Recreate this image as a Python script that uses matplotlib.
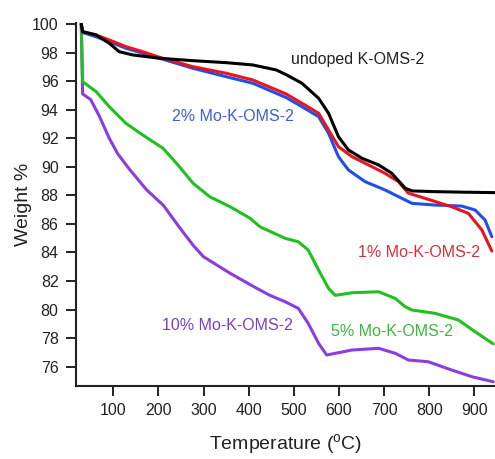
import matplotlib
matplotlib.use("Agg")
import matplotlib.pyplot as plt

plt.rcParams['font.family'] = ['Liberation Sans', 'DejaVu Sans']
plt.rcParams['mathtext.fontset'] = 'custom'
plt.rcParams['mathtext.rm'] = 'Liberation Sans'

# Undoped K-OMS-2
undoped_x = [29, 32, 62, 91, 113, 143, 202, 276, 350, 409, 461, 483, 518, 555, 577, 599, 621, 651, 688, 717, 747, 762, 810, 880, 946]
undoped_y = [100.0, 99.46, 99.23, 98.65, 98.06, 97.83, 97.6, 97.43, 97.29, 97.13, 96.78, 96.45, 95.85, 94.8, 93.75, 92.11, 91.18, 90.6, 90.13, 89.55, 88.5, 88.31, 88.26, 88.22, 88.19]

# 1% Mo-K-OMS-2
mo1_x = [29, 32, 62, 91, 128, 165, 202, 276, 350, 409, 483, 518, 555, 577, 599, 629, 673, 702, 732, 754, 791, 850, 887, 917, 939]
mo1_y = [100.0, 99.46, 99.23, 98.88, 98.41, 98.06, 97.67, 97.01, 96.55, 96.08, 95.1, 94.45, 93.75, 92.58, 91.41, 90.71, 90.01, 89.55, 88.96, 88.15, 87.79, 87.2, 86.74, 85.57, 84.1]

# 2% Mo-K-OMS-2
mo2_x = [29, 32, 62, 91, 128, 165, 202, 276, 350, 409, 483, 518, 555, 577, 599, 621, 658, 702, 732, 762, 813, 872, 902, 924, 939]
mo2_y = [100.0, 99.4, 99.1, 98.76, 98.3, 97.95, 97.6, 96.9, 96.31, 95.85, 94.85, 94.21, 93.51, 92.35, 90.71, 89.78, 88.96, 88.38, 87.91, 87.44, 87.32, 87.25, 86.97, 86.27, 85.1]

# 5% Mo-K-OMS-2
mo5_x = [29, 32, 62, 91, 128, 165, 210, 240, 277, 314, 359, 403, 425, 481, 510, 532, 555, 577, 592, 629, 688, 725, 747, 762, 813, 865, 902, 942]
mo5_y = [100.0, 95.96, 95.26, 94.21, 93.04, 92.23, 91.3, 90.25, 88.84, 87.9, 87.2, 86.4, 85.8, 84.99, 84.75, 84.17, 82.77, 81.49, 81.0, 81.18, 81.25, 80.78, 80.2, 79.97, 79.74, 79.27, 78.45, 77.6]

# 10% Mo-K-OMS-2
mo10_x = [29, 32, 50, 69, 91, 110, 137, 174, 211, 248, 277, 300, 359, 418, 447, 481, 510, 532, 555, 573, 629, 688, 725, 754, 798, 850, 895, 942]
mo10_y = [100.0, 95.1, 94.7, 93.55, 92.0, 90.9, 89.78, 88.38, 87.3, 85.7, 84.5, 83.7, 82.54, 81.49, 81.0, 80.55, 80.09, 79.04, 77.64, 76.82, 77.17, 77.29, 76.94, 76.47, 76.35, 75.77, 75.3, 74.95]

labels = ["undoped K-OMS-2", "1% Mo-K-OMS-2", "2% Mo-K-OMS-2", "5% Mo-K-OMS-2", "10% Mo-K-OMS-2"]
x_ticks = [100, 200, 300, 400, 500, 600, 700, 800, 900]
y_ticks = [76, 78, 80, 82, 84, 86, 88, 90, 92, 94, 96, 98, 100]

fig = plt.figure(figsize=(4.95, 4.59), dpi=100)
ax = fig.add_axes([0.1535, 0.159, 0.8465, 0.791])

lw = 2.2
kw = dict(lw=lw, solid_joinstyle='round', solid_capstyle='round')
ax.plot(mo10_x, mo10_y, color='#8a3ee0', **kw)
ax.plot(mo5_x, mo5_y, color='#1fc01f', **kw)
ax.plot(mo2_x, mo2_y, color='#1f4fe8', **kw)
ax.plot(mo1_x, mo1_y, color='#e8141e', **kw)
ax.plot(undoped_x, undoped_y, color='black', **kw)

fs = 11.5
ax.text(641, 97.48, labels[0], color='#222222', fontsize=fs, ha='center', va='center')
ax.text(366, 93.5, labels[2], color='#3a5fd6', fontsize=fs, ha='center', va='center')
ax.text(778, 83.98, labels[1], color='#d8303a', fontsize=fs, ha='center', va='center')
ax.text(717, 78.45, labels[3], color='#3ab83a', fontsize=fs, ha='center', va='center')
ax.text(352, 78.92, labels[4], color='#7a40c8', fontsize=fs, ha='center', va='center')

ax.set_xlim(17.3, 946)
ax.set_ylim(74.65, 100.07)
ax.set_xticks(x_ticks)
ax.set_yticks(y_ticks)
ax.tick_params(direction='out', length=7.5, width=1.4, labelsize=11.5, colors='#222222', pad=5)
for s in ['top', 'right']:
    ax.spines[s].set_visible(False)
for s in ['left', 'bottom']:
    ax.spines[s].set_linewidth(1.5)
    ax.spines[s].set_color('#222222')

ax.set_ylabel('Weight %', fontsize=14, color='#222222', labelpad=0)
ax.set_xlabel(r'Temperature ($\mathregular{^{o}}$C)', fontsize=14, color='#222222', labelpad=10)

fig.savefig('out.png', dpi=100)
